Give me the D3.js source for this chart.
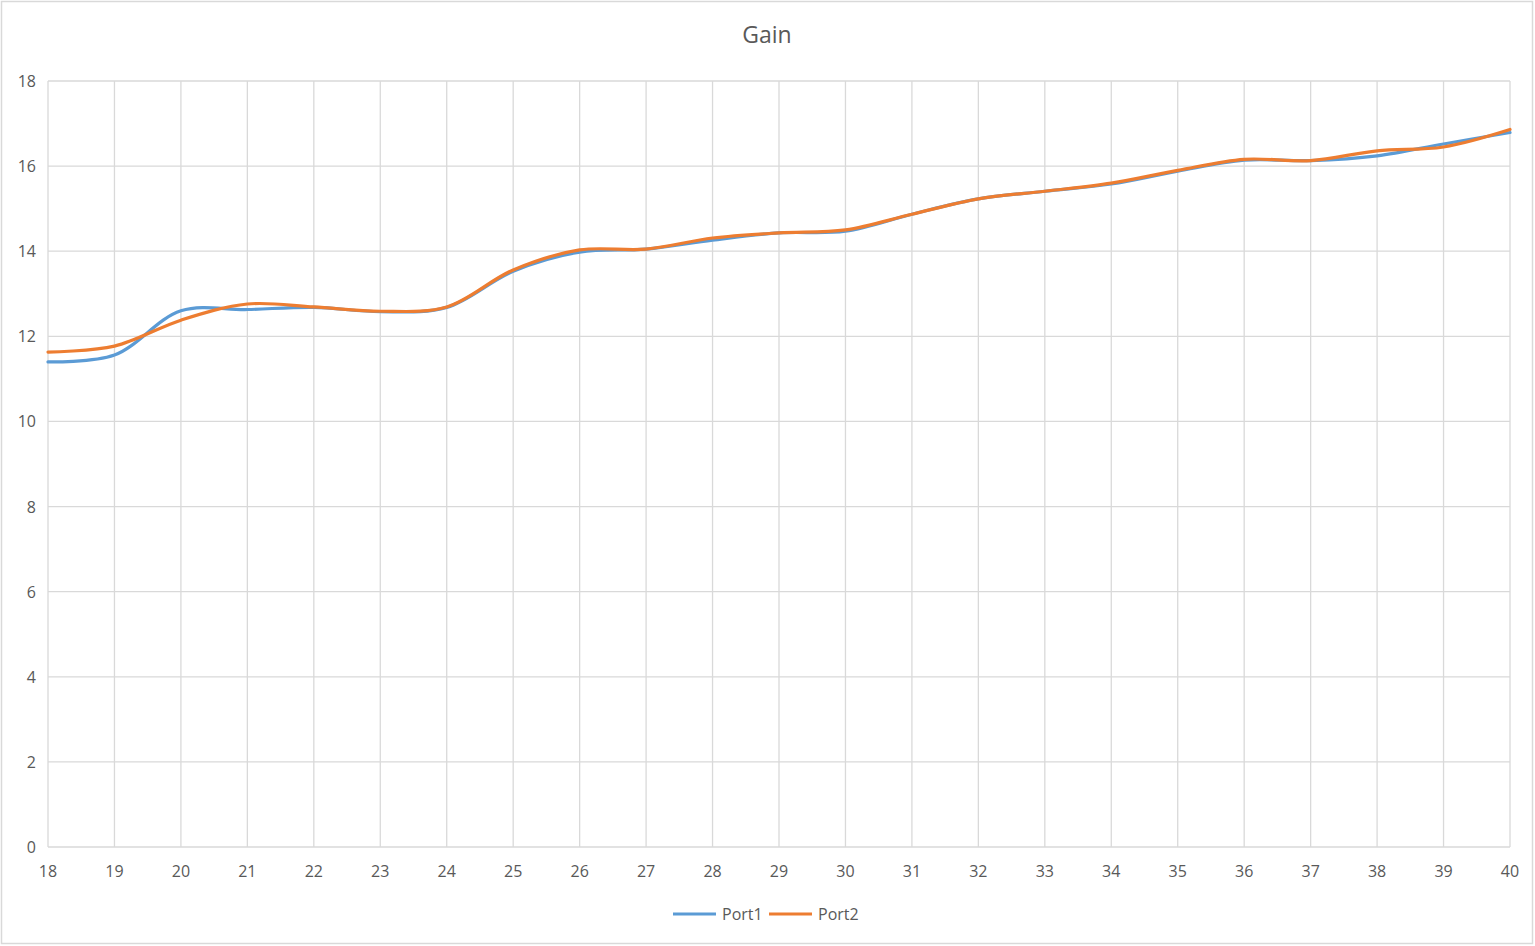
<!DOCTYPE html>
<html>
<head>
<meta charset="utf-8">
<script src="https://cdn.jsdelivr.net/npm/d3@7"></script>
<style>
  body { margin: 0; background: #fff; }
  text { font-family: "Open Sans", "Liberation Sans", sans-serif; fill: #595959; }
</style>
</head>
<body>
<svg id="chart" width="1535" height="946"></svg>
<script>
var freq = [18, 19, 20, 21, 22, 23, 24, 25, 26, 27, 28, 29, 30, 31, 32, 33, 34, 35, 36, 37, 38, 39, 40]
var port1 = [11.40, 11.56, 12.60, 12.63, 12.68, 12.58, 12.68, 13.53, 13.98, 14.05, 14.26, 14.43, 14.47, 14.87, 15.23, 15.41, 15.58, 15.88, 16.14, 16.13, 16.24, 16.52, 16.79]
var port2 = [11.63, 11.77, 12.38, 12.76, 12.69, 12.59, 12.69, 13.56, 14.03, 14.05, 14.31, 14.43, 14.50, 14.87, 15.23, 15.41, 15.60, 15.90, 16.16, 16.13, 16.36, 16.45, 16.86]
var yTicks = [0, 2, 4, 6, 8, 10, 12, 14, 16, 18]
var seriesNames = ['Port1', 'Port2']
var seriesColors = ['#5B9BD5', '#ED7D31']

var svg = d3.select('#chart')
var plotLeft = 48, plotRight = 1510, plotTop = 81, plotBottom = 847

// chart border
svg.append('rect')
  .attr('x', 1.5).attr('y', 1.5)
  .attr('width', 1531).attr('height', 942)
  .attr('fill', 'none').attr('stroke', '#d9d9d9').attr('stroke-width', 1.5)

var x = d3.scaleLinear().domain([18, 40]).range([plotLeft, plotRight])
var y = d3.scaleLinear().domain([0, 18]).range([plotBottom, plotTop])

// grid
svg.append('g').selectAll('line')
  .data(yTicks)
  .join('line')
  .attr('x1', plotLeft).attr('x2', plotRight)
  .attr('y1', d => y(d)).attr('y2', d => y(d))
  .attr('stroke', '#d9d9d9').attr('stroke-width', 1.3)
svg.append('g').selectAll('line')
  .data(freq)
  .join('line')
  .attr('y1', plotTop).attr('y2', plotBottom)
  .attr('x1', d => x(d)).attr('x2', d => x(d))
  .attr('stroke', '#d9d9d9').attr('stroke-width', 1.3)

// axis labels
svg.append('g').selectAll('text')
  .data(yTicks)
  .join('text')
  .attr('x', 36).attr('y', d => y(d) + 6)
  .attr('text-anchor', 'end')
  .attr('font-size', '16px')
  .text(d => d)
svg.append('g').selectAll('text')
  .data(freq)
  .join('text')
  .attr('x', d => x(d)).attr('y', 877)
  .attr('text-anchor', 'middle')
  .attr('font-size', '16px')
  .text(d => d)

// title
svg.append('text')
  .attr('x', 767).attr('y', 43)
  .attr('text-anchor', 'middle')
  .attr('font-size', '23px')
  .text('Gain')

// lines
var line = d3.line()
  .x((d, i) => x(freq[i]))
  .y(d => y(d))
  .curve(d3.curveCatmullRom.alpha(0.5))

;[port1, port2].forEach(function (s, k) {
  svg.append('path')
    .datum(s)
    .attr('fill', 'none')
    .attr('stroke', seriesColors[k])
    .attr('stroke-width', 3.2)
    .attr('stroke-linecap', 'round')
    .attr('d', line)
})

// legend
var legend = svg.append('g').selectAll('g')
  .data(seriesNames)
  .join('g')
  .attr('transform', (d, i) => 'translate(' + (673 + i * 96) + ',914)')
legend.append('line')
  .attr('x1', 0).attr('x2', 43)
  .attr('stroke', (d, i) => seriesColors[i])
  .attr('stroke-width', 3.2)
legend.append('text')
  .attr('x', 49).attr('y', 6)
  .attr('font-size', '16px')
  .text(d => d)
</script>
</body>
</html>
